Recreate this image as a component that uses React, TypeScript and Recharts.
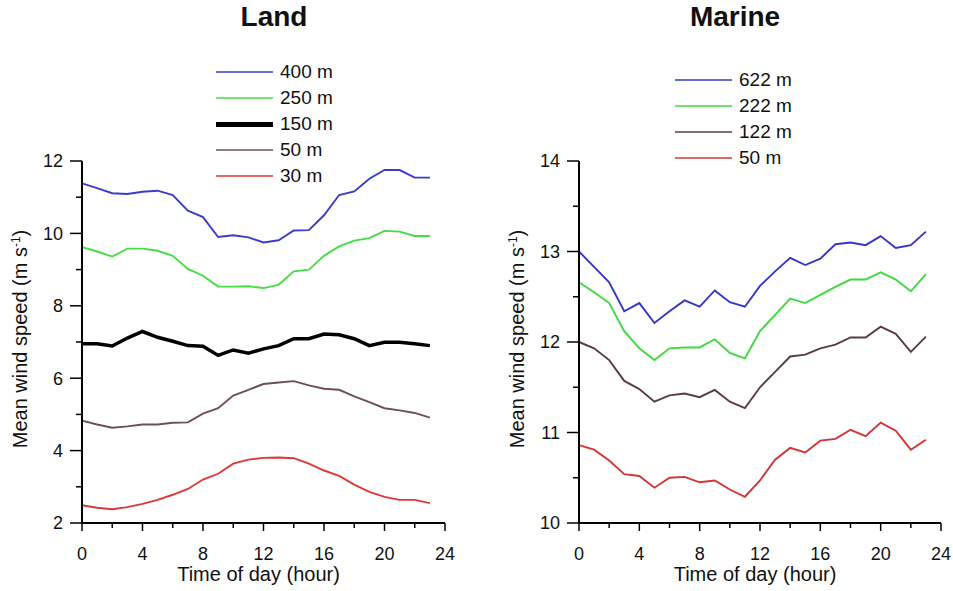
import { LineChart, Line, XAxis, YAxis, Legend } from "recharts";

const FONT = '"Liberation Sans", Arial, sans-serif';

// hours of the day
const hours = [0, 1, 2, 3, 4, 5, 6, 7, 8, 9, 10, 11, 12, 13, 14, 15, 16, 17, 18, 19, 20, 21, 22, 23];
const hourTicks = [0, 2, 4, 6, 8, 10, 12, 14, 16, 18, 20, 22, 24];

// Land, mean wind speed (m/s)
const land400 = [11.38, 11.25, 11.11, 11.09, 11.15, 11.18, 11.06, 10.63, 10.45, 9.9, 9.95, 9.89, 9.75, 9.81, 10.08, 10.09, 10.5, 11.06, 11.16, 11.51, 11.75, 11.75, 11.54, 11.54];
const land250 = [9.62, 9.5, 9.36, 9.58, 9.58, 9.52, 9.38, 9.02, 8.83, 8.53, 8.53, 8.54, 8.49, 8.58, 8.95, 9.0, 9.38, 9.64, 9.8, 9.87, 10.07, 10.05, 9.93, 9.93];
const land150 = [6.95, 6.95, 6.89, 7.11, 7.29, 7.13, 7.02, 6.9, 6.88, 6.63, 6.78, 6.69, 6.81, 6.9, 7.09, 7.09, 7.22, 7.2, 7.09, 6.9, 6.99, 6.99, 6.95, 6.9];
const land50 = [4.83, 4.72, 4.63, 4.67, 4.72, 4.72, 4.77, 4.78, 5.02, 5.17, 5.52, 5.68, 5.84, 5.88, 5.92, 5.8, 5.71, 5.68, 5.5, 5.34, 5.17, 5.11, 5.04, 4.91];
const land30 = [2.49, 2.42, 2.38, 2.44, 2.53, 2.64, 2.78, 2.94, 3.2, 3.36, 3.64, 3.75, 3.8, 3.81, 3.79, 3.64, 3.45, 3.3, 3.06, 2.86, 2.72, 2.64, 2.64, 2.55];
const landTicks = [2, 3, 4, 5, 6, 7, 8, 9, 10, 11, 12];

// Marine, mean wind speed (m/s)
const marine622 = [13.0, 12.83, 12.66, 12.34, 12.43, 12.21, 12.34, 12.46, 12.39, 12.57, 12.44, 12.39, 12.62, 12.78, 12.93, 12.85, 12.92, 13.08, 13.1, 13.07, 13.17, 13.04, 13.07, 13.22];
const marine222 = [12.66, 12.55, 12.43, 12.12, 11.93, 11.8, 11.93, 11.94, 11.94, 12.03, 11.88, 11.82, 12.12, 12.3, 12.48, 12.43, 12.52, 12.61, 12.69, 12.69, 12.77, 12.69, 12.56, 12.75];
const marine122 = [12.0, 11.93, 11.8, 11.57, 11.48, 11.34, 11.41, 11.43, 11.39, 11.47, 11.34, 11.27, 11.5, 11.67, 11.84, 11.86, 11.93, 11.97, 12.05, 12.05, 12.17, 12.09, 11.89, 12.06];
const marine50 = [10.86, 10.81, 10.69, 10.54, 10.52, 10.39, 10.5, 10.51, 10.45, 10.47, 10.37, 10.29, 10.47, 10.7, 10.83, 10.78, 10.91, 10.93, 11.03, 10.96, 11.11, 11.02, 10.81, 10.92];
const marineTicks = [10, 10.5, 11, 11.5, 12, 12.5, 13, 13.5, 14];

type Series = { key: string; name: string; color: string; width: number; values: number[] };

const landSeries: Series[] = [
  { key: "s400", name: "400 m", color: "#3b3bcc", width: 1.9, values: land400 },
  { key: "s250", name: "250 m", color: "#44dd44", width: 1.9, values: land250 },
  { key: "s150", name: "150 m", color: "#000000", width: 3.5, values: land150 },
  { key: "s50", name: "50 m", color: "#6e4f52", width: 1.9, values: land50 },
  { key: "s30", name: "30 m", color: "#dd3838", width: 1.9, values: land30 },
];

const marineSeries: Series[] = [
  { key: "s622", name: "622 m", color: "#3535c8", width: 1.9, values: marine622 },
  { key: "s222", name: "222 m", color: "#3fd83f", width: 1.9, values: marine222 },
  { key: "s122", name: "122 m", color: "#5a3c3e", width: 1.9, values: marine122 },
  { key: "s50", name: "50 m", color: "#d23535", width: 1.9, values: marine50 },
];

function toRows(series: Series[]) {
  return hours.map((h, i) => {
    const row: any = { hour: h };
    series.forEach((s) => (row[s.key] = s.values[i]));
    return row;
  });
}

function XTick({ x, y, payload }: any) {
  const v = payload.value;
  const major = v % 4 === 0;
  return (
    <g>
      <line x1={x} y1={y} x2={x} y2={y + (major ? 8 : 5)} stroke="#000" strokeWidth={1.5} />
      {major && (
        <text x={x} y={y + 37} textAnchor="middle" fontSize={18} fontFamily={FONT} fill="#111">
          {v}
        </text>
      )}
    </g>
  );
}

const makeYTick = (majorStep: number) =>
  function YTick({ x, y, payload }: any) {
    const v = payload.value;
    const major = Math.abs(v / majorStep - Math.round(v / majorStep)) < 1e-6;
    return (
      <g>
        <line x1={x} y1={y} x2={x - (major ? 12 : 6)} y2={y} stroke="#000" strokeWidth={1.5} />
        {major && (
          <text x={x - 19} y={y} dy="0.35em" textAnchor="end" fontSize={18} fontFamily={FONT} fill="#111">
            {v}
          </text>
        )}
      </g>
    );
  };

function YLabel({ viewBox }: any) {
  const cx = viewBox.x - 22;
  const cy = viewBox.y + viewBox.height / 2 - 3;
  return (
    <text x={cx} y={cy} dy="0.35em" transform={`rotate(-90, ${cx}, ${cy})`} textAnchor="middle" fontSize={20} fontFamily={FONT} fill="#111">
      Mean wind speed (m s<tspan dy={-7} fontSize={12}>-1</tspan>
      <tspan dy={7}>)</tspan>
    </text>
  );
}

function XLabel({ viewBox }: any) {
  return (
    <text x={viewBox.x + viewBox.width / 2 - 5} y={viewBox.y + 58} textAnchor="middle" fontSize={20} fontFamily={FONT} fill="#111">
      Time of day (hour)
    </text>
  );
}

function LegendBox({ series }: { series: Series[] }) {
  return (
    <div style={{ fontFamily: FONT }}>
      {series.map((s) => (
        <div key={s.key} style={{ display: "flex", alignItems: "center", height: 26 }}>
          <div style={{ width: 57, height: s.width > 2 ? 5 : 2.5, background: s.color, opacity: s.width > 2 ? 1 : 0.75 }} />
          <span style={{ marginLeft: 7, fontSize: 19, color: "#111", whiteSpace: "nowrap" }}>{s.name}</span>
        </div>
      ))}
    </div>
  );
}

type PanelProps = {
  title: string;
  series: Series[];
  ticks: number[];
  domain: [number, number];
  majorStep: number;
  left: number;
  width: number;
  margin: { top: number; right: number; bottom: number; left: number };
  legendPos: { left: number; top: number };
  titleX: number;
};

function Panel(p: PanelProps) {
  const rows = toRows(p.series);
  return (
    <div style={{ position: "absolute", left: p.left, top: 0, width: p.width, height: 591 }}>
      <div
        style={{
          position: "absolute",
          left: p.titleX - 100,
          width: 200,
          top: 3,
          textAlign: "center",
          fontFamily: FONT,
          fontWeight: "bold",
          fontSize: 28,
          lineHeight: "28px",
          color: "#111",
        }}
      >
        {p.title}
      </div>
      <LineChart width={p.width} height={591} data={rows} margin={p.margin}>
        <XAxis
          dataKey="hour"
          type="number"
          domain={[0, 24]}
          ticks={hourTicks}
          interval={0}
          height={30}
          tickSize={0}
          tickMargin={0}
          tickLine={false}
          axisLine={{ stroke: "#000", strokeWidth: 2 }}
          tick={<XTick />}
          label={{ content: (lp: any) => <XLabel viewBox={lp.viewBox} /> }}
        />
        <YAxis
          type="number"
          domain={p.domain}
          ticks={p.ticks}
          interval={0}
          width={40}
          tickSize={0}
          tickMargin={0}
          tickLine={false}
          axisLine={{ stroke: "#000", strokeWidth: 2 }}
          tick={makeYTick(p.majorStep)}
          label={{ content: (lp: any) => <YLabel viewBox={lp.viewBox} /> }}
        />
        <Legend
          layout="vertical"
          align="center"
          verticalAlign="middle"
          wrapperStyle={{ left: p.legendPos.left, top: p.legendPos.top, width: "auto" }}
          content={() => <LegendBox series={p.series} />}
        />
        {p.series.map((s) => (
          <Line
            key={s.key}
            dataKey={s.key}
            name={s.name}
            stroke={s.color}
            strokeWidth={s.width}
            dot={false}
            type="linear"
            isAnimationActive={false}
          />
        ))}
      </LineChart>
    </div>
  );
}

export default function App() {
  return (
    <div style={{ position: "absolute", left: 0, top: 0, width: 953, height: 591, background: "#fff" }}>
      <Panel
        title="Land"
        series={landSeries}
        ticks={landTicks}
        domain={[2, 12]}
        majorStep={2}
        left={0}
        width={475}
        margin={{ top: 161, right: 30, bottom: 38, left: 42 }}
        legendPos={{ left: 216, top: 59 }}
        titleX={274}
      />
      <Panel
        title="Marine"
        series={marineSeries}
        ticks={marineTicks}
        domain={[10, 14]}
        majorStep={1}
        left={478}
        width={475}
        margin={{ top: 161, right: 12, bottom: 38, left: 61 }}
        legendPos={{ left: 197, top: 67 }}
        titleX={257}
      />
    </div>
  );
}
